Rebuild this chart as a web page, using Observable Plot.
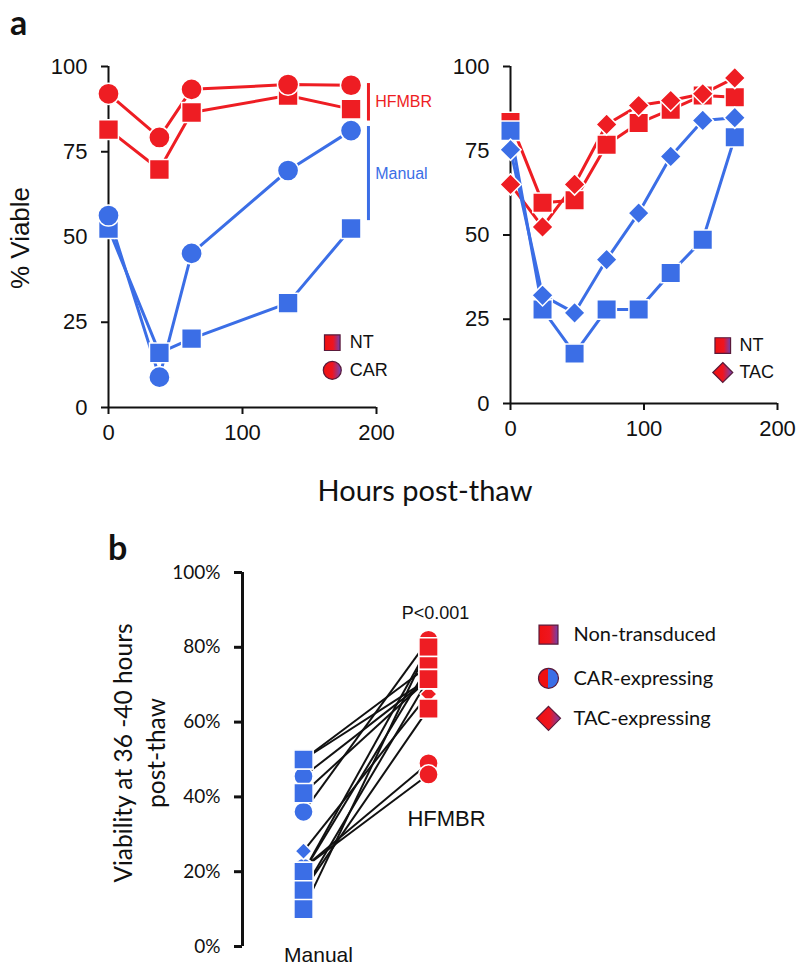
<!DOCTYPE html>
<html><head><meta charset="utf-8">
<script src="https://cdn.jsdelivr.net/npm/d3@7"></script>
<script src="https://cdn.jsdelivr.net/npm/@observablehq/plot@0.6"></script>
<style>
body{margin:0;background:#fff;}
#root{position:relative;width:800px;height:966px;overflow:hidden;background:#fff;}
.abs{position:absolute;}
.rot{transform:translate(-50%,-50%) rotate(-90deg);white-space:nowrap;}
</style></head><body>
<div id="root">
  <div class="abs" id="pa1" style="left:0;top:0"></div>
  <div class="abs" id="pa2" style="left:400px;top:0"></div>
  <div class="abs" id="pb" style="left:0;top:520px"></div>
  <div class="abs" style="left:10px;top:5px;font:bold 34px Lato,sans-serif;color:#111;line-height:34px">a</div>
  <div class="abs" style="left:108px;top:530px;font:bold 34px Lato,sans-serif;color:#111;line-height:34px">b</div>
  <div class="abs rot" style="left:20px;top:238px;font:26px 'Liberation Sans',Arial,sans-serif;color:#111">% Viable</div>
  <div class="abs" style="left:425px;top:489px;transform:translate(-50%,-50%);font:29px Lato,sans-serif;color:#111;white-space:nowrap">Hours post-thaw</div>
  <div class="abs rot" style="left:139px;top:753px;font:24.5px Lato,sans-serif;color:#111;text-align:center;line-height:33px">Viability at 36 -40 hours<br>post-thaw</div>
</div>
<script>
// ---------- Panel a (left): hours post-thaw, % viable ----------
const hoursA = [0, 38, 62, 134, 181];
const aHfmbrNT = [81.5, 69.8, 86.5, 91.5, 87.5];
const aHfmbrCAR = [92, 79.2, 93.3, 94.7, 94.5];
const aManualNT = [52.5, 16, 20.2, 30.6, 52.5];
const aManualCAR = [56.3, 8.9, 45.2, 69.5, 81.2];

// ---------- Panel a (right) ----------
const hoursB = [0, 24, 48, 72, 96, 120, 144, 168];
const bHfmbrNT = [83.5, 59.6, 60.3, 76.8, 83.2, 87.2, 91.4, 90.9];
const bHfmbrTAC = [65, 52.4, 65, 82.8, 88.4, 89.9, 91.9, 96.6];
const bManualNT = [80.9, 27.9, 14.8, 27.9, 27.9, 38.7, 48.6, 79];
const bManualTAC = [75.3, 32.1, 26.9, 42.7, 56.5, 73.3, 84, 84.8];

// group brackets (left panel)
const bracketLabels = ["HFMBR", "Manual"];
const bracketLo = [84, 54.8];
const bracketHi = [95, 82.4];

const yTicksA = [0, 25, 50, 75, 100];
const xTicksA = [0, 100, 200];

// ---------- Panel b: paired viability at 36-40 h ----------
const pairManual = [50, 50, 45.5, 41, 36, 25.5, 21, 21, 20, 20, 15, 15, 10];
const pairHfmbr  = [75, 71.5, 71.5, 71.5, 82, 67.5, 46, 49, 80, 75, 71.5, 63.6, 80];
const pairType   = ["NT","NT","CAR","NT","CAR","TAC","CAR","CAR","NT","NT","NT","NT","NT"];
const yTicksB = [0, 20, 40, 60, 80, 100];
const groupLabels = ["Manual", "HFMBR"];
const pLabel = "P<0.001";
const legendB = ["Non-transduced", "CAR-expressing", "TAC-expressing"];
const legendA1 = ["NT", "CAR"];
const legendA2 = ["NT", "TAC"];

const red = "#EE1D23", blue = "#3B6EE6";
const arial = "'Liberation Sans', Arial, Helvetica, sans-serif";
const lato = "Lato, 'Open Sans', sans-serif";

function rows(xs, vs) { return xs.map((x, i) => ({x, v: vs[i]})); }

function addDefs(svg, prefix) {
  d3.select(svg).insert("defs", ":first-child").html(`
    <linearGradient id="${prefix}sq" x1="0" x2="1" y1="0" y2="0">
      <stop offset="0" stop-color="#f01010"/><stop offset="0.55" stop-color="#ee1520"/><stop offset="1" stop-color="#7040b0"/>
    </linearGradient>
    <linearGradient id="${prefix}ci" x1="0" x2="1" y1="0" y2="0">
      <stop offset="0" stop-color="#f01010"/><stop offset="0.5" stop-color="#ee1520"/><stop offset="1" stop-color="#6a48c0"/>
    </linearGradient>
    <linearGradient id="${prefix}half" x1="0" x2="1" y1="0" y2="0">
      <stop offset="0" stop-color="#f01010"/><stop offset="0.5" stop-color="#f01010"/><stop offset="0.5" stop-color="#3b6ee6"/><stop offset="1" stop-color="#3b6ee6"/>
    </linearGradient>`);
}

const baseStyle = {background: "transparent", overflow: "visible", fontFamily: arial, color: "#111"};

// ----- left chart of panel a -----
{
  const sq = 11.2, ci = 10.6;
  const brackets = bracketLabels.map((l, i) => ({l, lo: bracketLo[i], hi: bracketHi[i], c: i === 0 ? red : blue}));
  const lx = 167, ltx = 180, ly = [19, 10.9];
  const svg = Plot.plot({
    width: 440, height: 460, marginLeft: 108, marginRight: 64, marginTop: 66, marginBottom: 53,
    x: {domain: [0, 200]}, y: {domain: [0, 100]},
    style: baseStyle,
    marks: [
      Plot.ruleX([0], {strokeWidth: 2}),
      Plot.ruleY([0], {strokeWidth: 2}),
      Plot.axisY({ticks: yTicksA, tickSize: 7, tickPadding: 14, fontSize: 22, strokeWidth: 2, label: null}),
      Plot.axisX({ticks: xTicksA, tickSize: 7, tickPadding: 10, fontSize: 22, strokeWidth: 2, label: null}),
      Plot.line(rows(hoursA, aHfmbrNT), {x: "x", y: "v", stroke: red, strokeWidth: 3}),
      Plot.line(rows(hoursA, aHfmbrCAR), {x: "x", y: "v", stroke: red, strokeWidth: 3}),
      Plot.line(rows(hoursA, aManualNT), {x: "x", y: "v", stroke: blue, strokeWidth: 3}),
      Plot.line(rows(hoursA, aManualCAR), {x: "x", y: "v", stroke: blue, strokeWidth: 3}),
      Plot.dot(rows(hoursA, aHfmbrNT), {x: "x", y: "v", symbol: "square", r: sq, fill: red, stroke: "white", strokeWidth: 1.5}),
      Plot.dot(rows(hoursA, aHfmbrCAR), {x: "x", y: "v", symbol: "circle", r: ci, fill: red, stroke: "white", strokeWidth: 1.5}),
      Plot.dot(rows(hoursA, aManualNT), {x: "x", y: "v", symbol: "square", r: sq, fill: blue, stroke: "white", strokeWidth: 1.5}),
      Plot.dot(rows(hoursA, aManualCAR), {x: "x", y: "v", symbol: "circle", r: ci, fill: blue, stroke: "white", strokeWidth: 1.5}),
      Plot.ruleX(brackets, {x: () => 194, y1: "lo", y2: "hi", stroke: "c", strokeWidth: 3}),
      Plot.text(brackets, {x: () => 199, y: d => (d.lo + d.hi) / 2, text: "l", fill: "c", fontSize: 16, textAnchor: "start"}),
      Plot.dot([legendA1[0]], {x: () => lx, y: () => ly[0], symbol: "square", r: 8.8, fill: "url(#la1sq)", stroke: "#5a1a3a", strokeWidth: 1.2}),
      Plot.dot([legendA1[1]], {x: () => lx, y: () => ly[1], symbol: "circle", r: 9, fill: "url(#la1ci)", stroke: "#5a1a3a", strokeWidth: 1.2}),
      Plot.text(legendA1, {x: () => ltx, y: (d, i) => ly[i], text: d => d, fontSize: 18, textAnchor: "start", fill: "#111"})
    ]
  });
  addDefs(svg, "la1");
  document.getElementById("pa1").appendChild(svg);
}

// ----- right chart of panel a -----
{
  const sq = 11, di = 9.6;
  const lx = 159, ltx = 171.5, ly = [17.2, 9.2];
  const svg = Plot.plot({
    width: 400, height: 460, marginLeft: 110, marginRight: 23, marginTop: 66, marginBottom: 57,
    x: {domain: [0, 200]}, y: {domain: [0, 100]},
    style: baseStyle,
    marks: [
      Plot.ruleX([0], {strokeWidth: 2}),
      Plot.ruleY([0], {strokeWidth: 2}),
      Plot.axisY({ticks: yTicksA, tickSize: 7, tickPadding: 14, fontSize: 22, strokeWidth: 2, label: null}),
      Plot.axisX({ticks: xTicksA, tickSize: 7, tickPadding: 10, fontSize: 22, strokeWidth: 2, label: null}),
      Plot.line(rows(hoursB, bHfmbrNT), {x: "x", y: "v", stroke: red, strokeWidth: 3}),
      Plot.line(rows(hoursB, bHfmbrTAC), {x: "x", y: "v", stroke: red, strokeWidth: 3}),
      Plot.line(rows(hoursB, bManualNT), {x: "x", y: "v", stroke: blue, strokeWidth: 3}),
      Plot.line(rows(hoursB, bManualTAC), {x: "x", y: "v", stroke: blue, strokeWidth: 3}),
      Plot.dot(rows(hoursB, bHfmbrNT), {x: "x", y: "v", symbol: "square", r: sq, fill: red, stroke: "white", strokeWidth: 1.5}),
      Plot.dot(rows(hoursB, bHfmbrTAC), {x: "x", y: "v", symbol: "diamond2", r: di, fill: red, stroke: "white", strokeWidth: 1.5}),
      Plot.dot(rows(hoursB, bManualNT), {x: "x", y: "v", symbol: "square", r: sq, fill: blue, stroke: "white", strokeWidth: 1.5}),
      Plot.dot(rows(hoursB, bManualTAC), {x: "x", y: "v", symbol: "diamond2", r: di, fill: blue, stroke: "white", strokeWidth: 1.5}),
      Plot.dot([legendA2[0]], {x: () => lx, y: () => ly[0], symbol: "square", r: 8.8, fill: "url(#la2sq)", stroke: "#5a1a3a", strokeWidth: 1.2}),
      Plot.dot([legendA2[1]], {x: () => lx, y: () => ly[1], symbol: "diamond2", r: 9, fill: "url(#la2ci)", stroke: "#5a1a3a", strokeWidth: 1.2}),
      Plot.text(legendA2, {x: () => ltx, y: (d, i) => ly[i], text: d => d, fontSize: 18, textAnchor: "start", fill: "#111"})
    ]
  });
  addDefs(svg, "la2");
  document.getElementById("pa2").appendChild(svg);
}

// ----- panel b -----
{
  const xDomain = [-0.488, 1.576];
  const pairs = pairManual.map((m, i) => ({m, h: pairHfmbr[i], t: pairType[i]}));
  const sym = {NT: "square", CAR: "circle", TAC: "diamond2"};
  const rr = {NT: 10.8, CAR: 9.6, TAC: 7.6};
  const byDesc = (key) => (a, b) => b[key] - a[key];
  const dots = (side, key, color, types) => types.map(t =>
    Plot.dot(pairs.filter(p => p.t === t).sort(byDesc(key)), {
      x: () => side, y: key, symbol: sym[t], r: rr[t], fill: color, stroke: "white", strokeWidth: 1.5
    }));
  const legX = 1.96, legTX = 2.16, legY = [83.4, 71.7, 61];
  const legSym = ["square", "circle", "diamond2"];
  const legR = [10.7, 10, 10.8];
  const legFill = ["url(#lbsq)", "url(#lbhalf)", "url(#lbsq)"];
  const svg = Plot.plot({
    width: 800, height: 446, marginLeft: 242, marginRight: 300, marginTop: 52, marginBottom: 20,
    x: {domain: xDomain, axis: null}, y: {domain: [0, 100]},
    style: baseStyle,
    marks: [
      Plot.ruleX([xDomain[0]], {strokeWidth: 3}),
      Plot.axisY({ticks: yTicksB, tickFormat: d => d + "%", tickSize: 8, tickPadding: 14, fontSize: 19, fontFamily: lato, strokeWidth: 3, label: null}),
      Plot.link(pairs, {x1: () => 0, y1: "m", x2: () => 1, y2: "h", stroke: "#111", strokeWidth: 2}),
      ...dots(0, "m", blue, ["CAR", "TAC", "NT"]),
      ...dots(1, "h", red, ["CAR", "TAC", "NT"]),
      Plot.text([groupLabels[0]], {x: () => 0.12, y: () => -2.4, text: d => d, fontSize: 21, fill: "#111"}),
      Plot.text([groupLabels[1]], {x: () => 1.144, y: () => 34.2, text: d => d, fontSize: 22, fill: "#111"}),
      Plot.text([pLabel], {x: () => 1.056, y: () => 89, text: d => d, fontSize: 18, fill: "#111"}),
      ...legendB.map((l, i) => Plot.dot([l], {x: () => legX, y: () => legY[i], symbol: legSym[i], r: legR[i], fill: legFill[i], stroke: "#5a1a3a", strokeWidth: 1.2})),
      Plot.text(legendB, {x: () => legTX, y: (d, i) => legY[i], text: d => d, fontSize: 20, fontFamily: lato, textAnchor: "start", fill: "#111"})
    ]
  });
  addDefs(svg, "lb");
  document.getElementById("pb").appendChild(svg);
}
</script>
</body></html>
